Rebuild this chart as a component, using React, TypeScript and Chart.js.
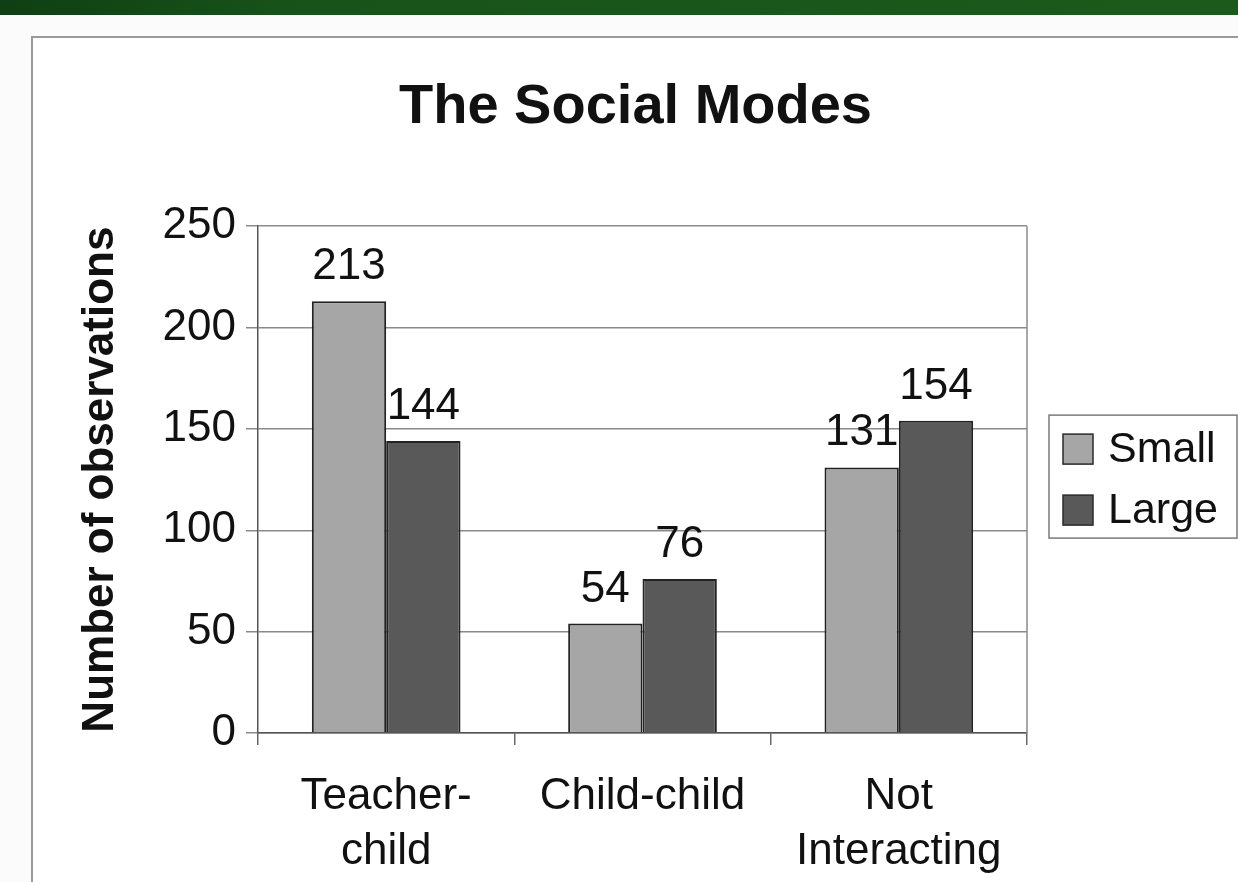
import React, { useEffect, useRef } from 'react';
import { Chart, registerables } from 'chart.js';

Chart.register(...registerables);

const chartTitle = 'The Social Modes';
const yAxisTitle = 'Number of observations';
const categories: (string | string[])[] = [['Teacher-', 'child'], 'Child-child', ['Not', 'Interacting']];
const seriesNames = ['Small', 'Large'];
const smallValues = [213, 54, 131];
const largeValues = [144, 76, 154];
const yTicks = [0, 50, 100, 150, 200, 250];
const seriesColors = ['#a6a6a6', '#595959'];

const FONT = "'Liberation Sans', Arial, Helvetica, sans-serif";
const TEXT = '#111111';

const dataLabelsPlugin = {
  id: 'dataLabels',
  afterDatasetsDraw(chart: any) {
    const ctx = chart.ctx;
    ctx.save();
    ctx.font = `44px ${FONT}`;
    ctx.fillStyle = TEXT;
    ctx.textAlign = 'center';
    ctx.textBaseline = 'alphabetic';
    chart.data.datasets.forEach((ds: any, i: number) => {
      const meta = chart.getDatasetMeta(i);
      meta.data.forEach((el: any, j: number) => {
        ctx.fillText(String(ds.data[j]), el.x, el.y - 22);
      });
    });
    ctx.restore();
  },
};

const frameAndLegendPlugin = {
  id: 'frameAndLegend',
  afterDraw(chart: any) {
    const { ctx, chartArea } = chart;
    ctx.save();
    // right border of plot
    ctx.strokeStyle = '#8a8a8a';
    ctx.lineWidth = 1.5;
    ctx.beginPath();
    ctx.moveTo(chartArea.right, chartArea.top);
    ctx.lineTo(chartArea.right, chartArea.bottom);
    ctx.stroke();

    // legend
    const w = 188;
    const h = 123;
    const left = chartArea.right + 22;
    const top = (chartArea.top + chartArea.bottom) / 2 - h / 2 - 3;
    ctx.strokeStyle = '#7a7a7a';
    ctx.lineWidth = 1.5;
    ctx.strokeRect(left, top, w, h);
    chart.data.datasets.forEach((ds: any, i: number) => {
      const cy = top + 34 + i * 61;
      ctx.fillStyle = ds.backgroundColor;
      ctx.fillRect(left + 14, cy - 15, 30, 30);
      ctx.strokeStyle = '#2a2a2a';
      ctx.lineWidth = 1.5;
      ctx.strokeRect(left + 14, cy - 15, 30, 30);
      ctx.fillStyle = TEXT;
      ctx.font = `43px ${FONT}`;
      ctx.textAlign = 'left';
      ctx.textBaseline = 'middle';
      ctx.fillText(ds.label, left + 59, cy + 1);
    });
    ctx.restore();
  },
};

export default function App() {
  const canvasRef = useRef<HTMLCanvasElement | null>(null);

  useEffect(() => {
    if (!canvasRef.current) return;
    const chart = new Chart(canvasRef.current, {
      type: 'bar',
      data: {
        labels: categories,
        datasets: [
          {
            label: seriesNames[0],
            data: smallValues,
            backgroundColor: seriesColors[0],
            borderColor: '#222222',
            borderWidth: 2,
          },
          {
            label: seriesNames[1],
            data: largeValues,
            backgroundColor: seriesColors[1],
            borderColor: '#222222',
            borderWidth: 2,
          },
        ],
      },
      options: {
        responsive: false,
        animation: false,
        events: [],
        datasets: {
          bar: { categoryPercentage: 0.58, barPercentage: 1 },
        },
        layout: { padding: 0 },
        plugins: {
          legend: { display: false },
          tooltip: { enabled: false },
          title: {
            display: true,
            text: chartTitle,
            color: TEXT,
            font: { family: FONT, size: 56, weight: 'bold', lineHeight: 1.2 },
            padding: { top: 36, bottom: 85 },
          },
        },
        scales: {
          x: {
            type: 'category',
            afterFit: (axis: any) => {
              axis.height = 149;
            },
            grid: {
              display: true,
              drawOnChartArea: false,
              drawTicks: true,
              tickLength: 12,
              offset: true,
              color: '#666',
              lineWidth: 1.5,
            },
            border: { display: true, color: '#555', width: 1.5 },
            ticks: {
              color: TEXT,
              padding: 24,
              maxRotation: 0,
              autoSkip: false,
              font: { family: FONT, size: 44, lineHeight: 1.26 },
            },
          },
          y: {
            type: 'linear',
            min: 0,
            max: 250,
            afterFit: (axis: any) => {
              axis.width = 225;
            },
            afterBuildTicks: (axis: any) => {
              axis.ticks = yTicks.map((v) => ({ value: v }));
            },
            grid: {
              display: true,
              drawTicks: true,
              tickLength: 12,
              color: '#8a8a8a',
              lineWidth: 1.5,
            },
            border: { display: true, color: '#555', width: 1.5 },
            ticks: {
              color: TEXT,
              padding: 10,
              font: { family: FONT, size: 44 },
            },
            title: {
              display: true,
              text: yAxisTitle,
              color: TEXT,
              font: { family: FONT, size: 44, weight: 'bold', lineHeight: 1.2 },
              padding: { top: 41, bottom: 0 },
            },
          },
          yRight: {
            type: 'linear',
            position: 'right',
            display: true,
            afterFit: (axis: any) => {
              axis.width = 211;
            },
            grid: { display: false },
            border: { display: false },
            ticks: { display: false },
          },
        },
      },
      plugins: [dataLabelsPlugin, frameAndLegendPlugin],
    } as any);
    return () => chart.destroy();
  }, []);

  return (
    <div
      style={{
        position: 'absolute',
        left: 0,
        top: 0,
        width: 1238,
        height: 882,
        overflow: 'hidden',
        background: '#fbfbfb',
      }}
    >
      <div
        style={{
          position: 'absolute',
          left: 0,
          top: 0,
          width: 1238,
          height: 15,
          background: 'linear-gradient(90deg, #0f3f14 0%, #185419 25%, #1b5a1b 100%)',
        }}
      />
      <div
        style={{
          position: 'absolute',
          left: 31,
          top: 36,
          width: 1300,
          height: 900,
          border: '2px solid #9a9a9a',
          background: '#ffffff',
        }}
      />
      <canvas
        ref={canvasRef}
        width={1205}
        height={844}
        style={{ position: 'absolute', left: 33, top: 38, width: 1205, height: 844 }}
      />
    </div>
  );
}
